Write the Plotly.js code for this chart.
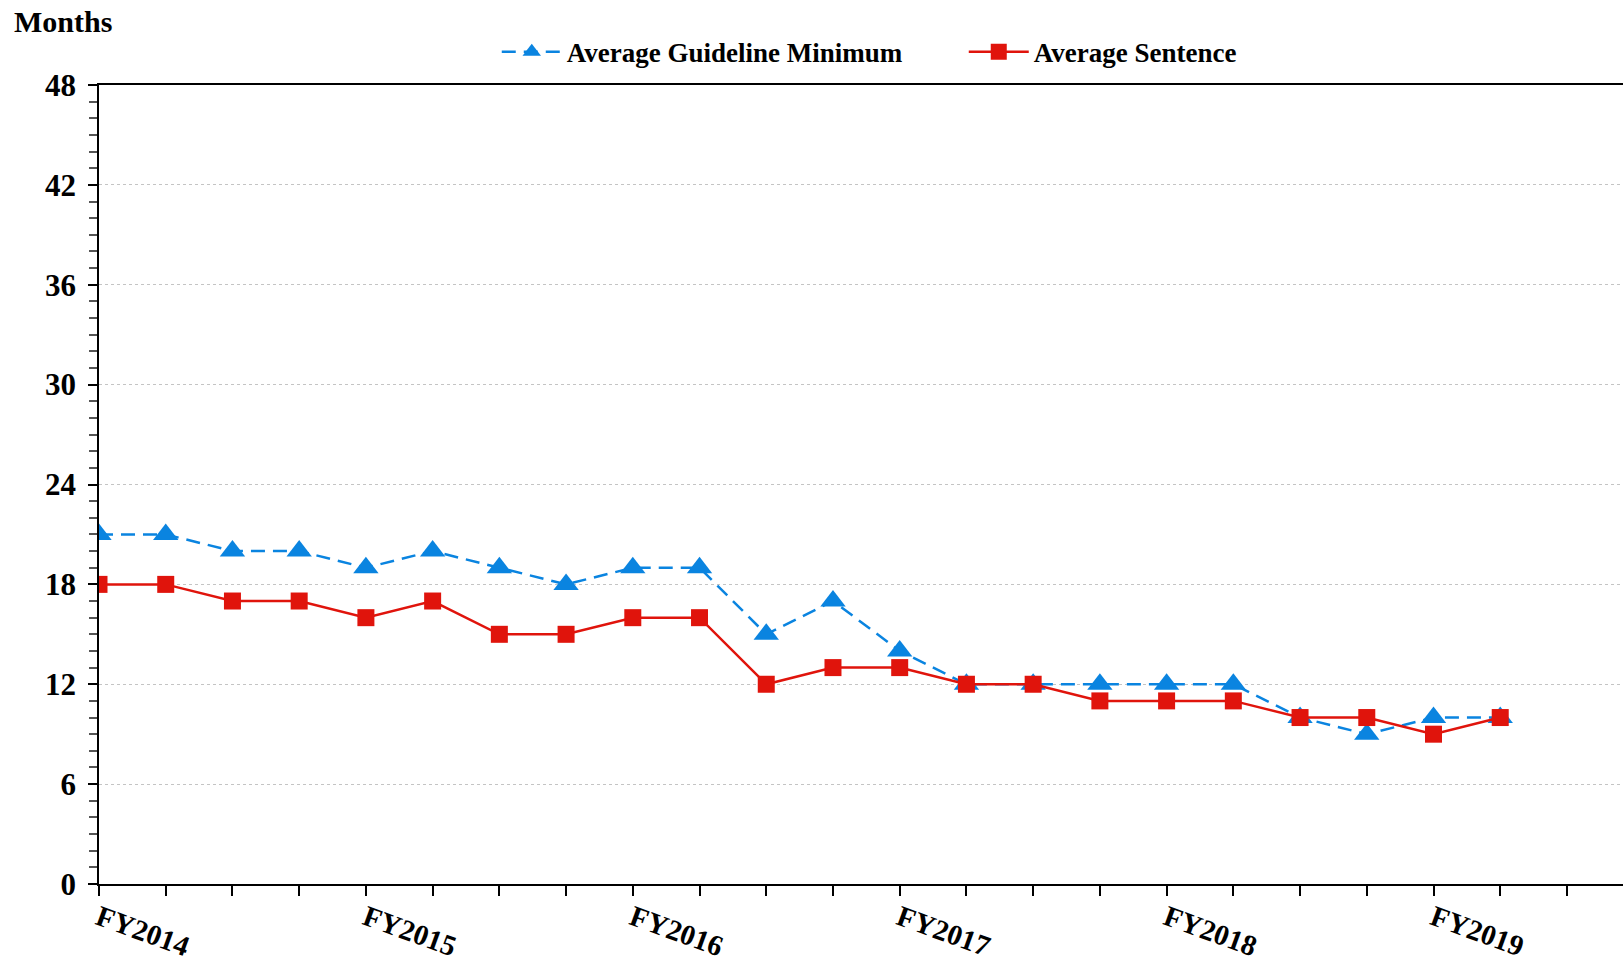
<!DOCTYPE html>
<html>
<head>
<meta charset="utf-8">
<script src="https://cdn.plot.ly/plotly-3.0.1.min.js"></script>
<style>html,body{margin:0;padding:0;background:#fff;}#chart{width:1623px;height:967px;}</style>
</head>
<body>
<div id="chart"></div>
<script>
const periods = ["FY2014 Q1","FY2014 Q2","FY2014 Q3","FY2014 Q4","FY2015 Q1","FY2015 Q2","FY2015 Q3","FY2015 Q4","FY2016 Q1","FY2016 Q2","FY2016 Q3","FY2016 Q4","FY2017 Q1","FY2017 Q2","FY2017 Q3","FY2017 Q4","FY2018 Q1","FY2018 Q2","FY2018 Q3","FY2018 Q4","FY2019 Q1","FY2019 Q2"];
const guidelineMin = [21,21,20,20,19,20,19,18,19,19,15,17,14,12,12,12,12,12,10,9,10,10];
const avgSentence = [18,18,17,17,16,17,15,15,16,16,12,13,13,12,12,11,11,11,10,10,9,10];
const yearLabels = ["FY2014","FY2015","FY2016","FY2017","FY2018","FY2019"];

const xIdx = periods.map((p,i)=>i);
const tickvals = [];
const ticktext = [];
for (let i = 0; i <= 22; i++) {
  tickvals.push(i);
  ticktext.push(i % 4 === 0 && yearLabels[i/4] ? yearLabels[i/4] : "");
}

const font = "Liberation Serif, Times New Roman, serif";
const traces = [
  {x: xIdx, y: guidelineMin, name: "Average Guideline Minimum", type: "scatter", mode: "lines+markers",
   line: {color: "#0a84e0", width: 2.5, dash: "14px,8px"}, marker: {symbol: "triangle-up", size: 22, color: "#0a84e0"},
   text: periods, hovertemplate: "%{text}: %{y}<extra></extra>"},
  {x: xIdx, y: avgSentence, name: "Average Sentence", type: "scatter", mode: "lines+markers",
   line: {color: "#e0140c", width: 2.5}, marker: {symbol: "square", size: 17, color: "#e0140c"},
   text: periods, hovertemplate: "%{text}: %{y}<extra></extra>"}
];

const layout = {
  width: 1623, height: 967,
  margin: {l: 99, r: 0, t: 85, b: 83, pad: 0},
  paper_bgcolor: "#fff", plot_bgcolor: "#fff",
  font: {family: font, color: "#000"},
  showlegend: true,
  legend: {orientation: "h", x: 0.261, xanchor: "left", y: 1.041, yanchor: "middle",
           font: {family: font, size: 27, color: "#000", weight: "bold"}, entrywidth: 392, itemwidth: 60,
           bgcolor: "rgba(0,0,0,0)"},
  xaxis: {range: [0, 22.84], tickvals: tickvals, ticktext: ticktext, tickangle: 20,
          ticks: "outside", ticklen: 10, tickcolor: "#000", tickwidth: 1.5, ticklabelstandoff: -6,
          showline: true, linecolor: "#000", linewidth: 1.5, mirror: true,
          showgrid: false, zeroline: false,
          tickfont: {family: font, size: 29, weight: "bold", color: "#000"}},
  yaxis: {range: [0, 48], tickvals: [0,6,12,18,24,30,36,42,48],
          ticks: "outside", ticklen: 9, tickcolor: "#000", tickwidth: 1.5,
          showline: true, linecolor: "#000", linewidth: 1.5, ticklabelstandoff: 6,
          showgrid: true, gridcolor: "#c4c4c4", griddash: "dot", gridwidth: 1, zeroline: false,
          minor: {dtick: 1, ticks: "outside", ticklen: 8, tickcolor: "#555", showgrid: false},
          tickfont: {family: font, size: 31, weight: "bold", color: "#000"}},
  annotations: [
    {text: "<b>Months</b>", xref: "paper", yref: "paper", x: -0.0568, y: 1.08, xanchor: "left", yanchor: "middle",
     showarrow: false, font: {family: font, size: 30, color: "#000"}}
  ]
};

Plotly.newPlot("chart", traces, layout, {displayModeBar: false});
</script>
</body>
</html>
